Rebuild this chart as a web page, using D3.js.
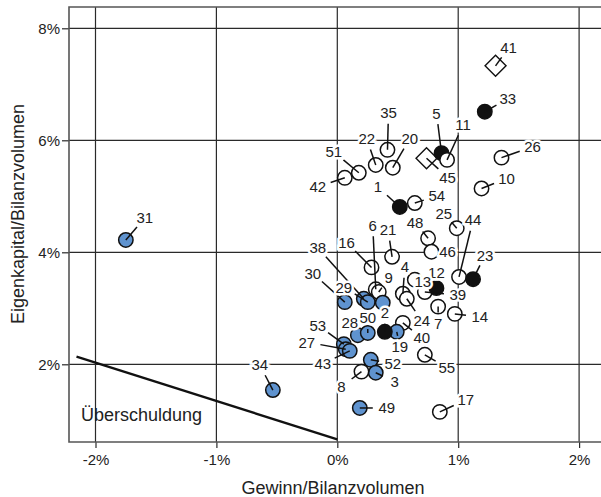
<!DOCTYPE html>
<html><head><meta charset="utf-8">
<script src="https://cdn.jsdelivr.net/npm/d3@7"></script>
<style>body{margin:0;background:#fff}svg{display:block}</style>
</head><body>
<svg id="c" width="601" height="497"></svg>
<script>
// ---- data ----
const ids   = ["31","34","41","33","45","5","11","26","10","35","22","20","51","42","1","54","48","25","44","46","23","39","12","13","4","24","7","14","40","19","2","6","9","16","21","30","38","29","","28","50","53","27","43","52","3","8","55","49","17"];
const xVals = [-1.749,-0.533,1.309,1.220,0.738,0.862,0.908,1.358,1.193,0.415,0.318,0.459,0.178,0.062,0.517,0.641,0.751,0.988,1.007,0.779,1.123,0.724,0.820,0.641,0.542,0.575,0.834,0.972,0.542,0.492,0.393,0.318,0.343,0.283,0.453,0.062,0.219,0.252,0.376,0.170,0.252,0.054,0.070,0.103,0.277,0.318,0.200,0.724,0.186,0.848];
const yVals = [4.22,1.54,7.33,6.51,5.68,5.77,5.65,5.69,5.14,5.83,5.56,5.51,5.42,5.33,4.81,4.88,4.25,4.43,3.56,4.01,3.52,3.29,3.36,3.51,3.26,3.17,3.03,2.90,2.74,2.58,2.58,3.34,3.29,3.73,3.92,3.11,3.17,3.11,3.10,2.52,2.56,2.36,2.27,2.24,2.08,1.85,1.87,2.17,1.22,1.15];
const kinds = ["b","b","d","k","d","k","w","w","w","w","w","w","w","w","k","w","w","w","w","w","k","w","k","w","w","w","w","w","w","b","k","w","w","w","w","b","b","b","b","b","b","b","b","b","b","b","w","w","b","w"];
const xTicks = [-2,-1,0,1,2];
const yTicks = [2,4,6,8];
const lineX = [-2.157, 0];
const lineY = [2.136, 0.66];
// ---- layout: label offsets (px) ----
const labelDx = [19,-13,13,23,21,-5,16,31,25,1,-9,17,-25,-27,-22,22,-13,-13,14,16,12,33,0,8,2,15,0,25,19,3,0,-3,10,-25,-4,-32,-46,-24,0,-8,0,-26,-39,-27,22,19,-20,22,27,26];
const labelDy = [-22,-25,-18,-13,19,-40,-35,-11,-10,-37,-26,-29,-21,9,-20,-7,-16,-15,-57,0,-24,3,-16,2,-27,22,17,3,15,15,-19,-64,-14,-25,-27,-29,-51,-15,0,-13,-15,-19,-7,13,4,9,15,13,0,-12];

const svg = d3.select("#c");
const x = d3.scaleLinear().domain([-2,2]).range([95.5,579.1]);
const y = d3.scaleLinear().domain([2,8]).range([364.3,28.3]);
const L=69, T=7, B=442, R=603;
const font = "'Liberation Sans', Arial, Helvetica, sans-serif";

// gridlines
const g = svg.append("g");
g.selectAll("line.gx").data(xTicks).join("line")
  .attr("x1",d=>x(d)).attr("x2",d=>x(d)).attr("y1",T).attr("y2",B)
  .attr("stroke","#2a2a2a").attr("stroke-width",1.2);
g.selectAll("line.gy").data(yTicks).join("line")
  .attr("x1",L).attr("x2",R).attr("y1",d=>y(d)).attr("y2",d=>y(d))
  .attr("stroke","#2a2a2a").attr("stroke-width",1.2);

// axes
const xa = svg.append("g").attr("transform",`translate(0,${B})`)
  .call(d3.axisBottom(x).tickValues(xTicks).tickSize(6).tickPadding(6).tickFormat(d=>d+"%"));
const ya = svg.append("g").attr("transform",`translate(${L},0)`)
  .call(d3.axisLeft(y).tickValues(yTicks).tickSize(7).tickPadding(2).tickFormat(d=>d+"%"));
[xa,ya].forEach(a=>{
  a.select(".domain").remove();
  a.selectAll(".tick line").attr("stroke","#2a2a2a").attr("stroke-width",1.2);
  a.selectAll(".tick text").attr("font-family",font).attr("font-size",15).attr("fill","#222");
});

// frame
svg.append("path").attr("d",`M${R},${T}H${L}V${B}H${R}`).attr("fill","none")
  .attr("stroke","#555").attr("stroke-width",1.6);

// Überschuldung line
const lineData = lineX.map((v,i)=>[v,lineY[i]]);
svg.append("path").datum(lineData)
  .attr("d",d3.line().x(d=>x(d[0])).y(d=>y(d[1])))
  .attr("stroke","#111").attr("stroke-width",2.4).attr("fill","none");
svg.append("text").attr("x",81).attr("y",421).text("Überschuldung")
  .attr("font-family",font).attr("font-size",18).attr("fill","#222");

// points
const pts = ids.map((id,i)=>({id,x:xVals[i],y:yVals[i],k:kinds[i],dx:labelDx[i],dy:labelDy[i]}));
const fillOf = {b:"#5f93cf",k:"#111",w:"#fff",d:"#fff"};
const pg = svg.append("g");
pts.forEach(p=>{
  const cx=x(p.x), cy=y(p.y);
  if(p.k==="d"){
    pg.append("path").attr("d",d3.symbol(d3.symbolSquare,220)())
      .attr("transform",`translate(${cx},${cy}) rotate(45)`)
      .attr("fill","#fff").attr("stroke","#111").attr("stroke-width",1.4);
  } else {
    pg.append("circle").attr("cx",cx).attr("cy",cy).attr("r",7.2)
      .attr("fill",fillOf[p.k]).attr("stroke","#111").attr("stroke-width",1.5);
  }
});
// leader lines: from point centre to the edge of an ellipse around the label
pts.forEach(p=>{
  if(!p.id) return;
  const cx=x(p.x), cy=y(p.y);
  const d=Math.hypot(p.dx,p.dy);
  if(d<12) return;
  const ux=p.dx/d, uy=p.dy/d;
  const gap=1/Math.sqrt((ux/14)**2+(uy/11)**2);
  if(d-gap<4) return;
  const t=(d-gap)/d;
  pg.append("line").attr("x1",cx).attr("y1",cy).attr("x2",cx+p.dx*t).attr("y2",cy+p.dy*t)
    .attr("stroke","#111").attr("stroke-width",1.5);
});
// labels
pts.forEach(p=>{
  if(!p.id) return;
  const cx=x(p.x), cy=y(p.y);
  pg.append("text").attr("x",cx+p.dx).attr("y",cy+p.dy).attr("dy","0.36em")
    .attr("text-anchor","middle").text(p.id)
    .attr("font-family",font).attr("font-size",15).attr("fill","#222")
    .attr("stroke","#fff").attr("stroke-width",5).attr("paint-order","stroke");
});

// axis titles
svg.append("text").attr("x",333).attr("y",494).attr("text-anchor","middle")
  .text("Gewinn/Bilanzvolumen").attr("font-family",font).attr("font-size",18).attr("fill","#222");
svg.append("text").attr("transform","translate(24,214) rotate(-90)").attr("text-anchor","middle")
  .text("Eigenkapital/Bilanzvolumen").attr("font-family",font).attr("font-size",18).attr("fill","#222");
</script>
</body></html>
